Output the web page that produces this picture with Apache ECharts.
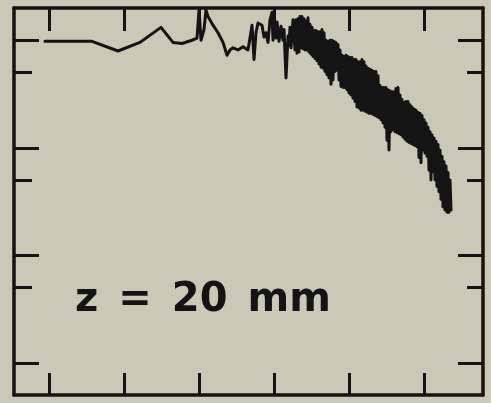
<!DOCTYPE html>
<html>
<head>
<meta charset="utf-8">
<script src="https://cdn.jsdelivr.net/npm/echarts@6/dist/echarts.min.js"></script>
<style>
  html, body { margin: 0; padding: 0; background: #cac8b6; }
  #chart { width: 491px; height: 403px; }
</style>
</head>
<body>
<div id="chart"></div>
<script>
// Tick positions (labels are not printed on this plot)
const xTicks = [75, 150, 225, 300, 375, 450];
const yMajorTicks = [0, -10, -20, -30];
const yMinorTicks = [-3, -13, -23];
const xRange = [40, 509];
const yRange = [-33, 3];

const caption = 'z\u2002=\u200220\u2002mm';

// Low-frequency part of the trace: [x, level dB]
const traceStart = [
  [71, -0.1], [96, -0.1], [118, -0.1], [144, -1.0], [166, -0.2], [187, 1.2],
  [199, -0.2], [208, -0.3], [218, 0.0], [223, 0.2], [225, 2.8], [227, 0.0],
  [230, 1.0], [232, 2.8], [234, 2.2], [239, 1.4], [244, 0.7], [249, -0.2],
  [253, -1.4], [256, -0.9], [259, -0.7], [264, -0.9], [269, -0.6], [274, -0.9],
  [277, 0.8], [278, 1.4], [280, -1.8], [282, 0.7], [284, 1.6], [288, 1.4],
  [290, 0.3], [292, 0.7], [294, -0.2], [296, 1.9], [298, 2.6], [299, 0.0],
  [300, 2.5], [302, 0.2], [303, 1.7], [305, -0.1], [307, 1.3], [309, 0.0],
  [310, 1.0], [312, -3.5], [314, 0.4], [315, -0.5], [316, 1.2], [317, -0.7],
  [319, 1.9]
];

// Rapidly fluctuating high-frequency part of the trace: [x, level dB]
const traceBand = [
  [321, -0.9], [322, 1.9], [323, -1.2], [324, 2.0], [325, -1.1], [326, 2.2],
  [327, -0.7], [328, 2.2], [329, -0.8], [330, 2.0], [331, -0.9], [332, 1.8],
  [333, -0.9], [334, 2.1], [335, -1.1], [336, 1.5], [337, -1.3], [338, 1.2],
  [339, -1.5], [340, 0.9], [341, -1.7], [342, 0.9], [343, -1.9], [344, 0.8],
  [345, -2.2], [346, 0.8], [347, -2.5], [348, 1.0], [349, -2.6], [350, 0.7],
  [351, -2.9], [352, 0.0], [353, -3.2], [354, -0.1], [355, -3.5], [356, 0.0],
  [357, -4.1], [358, 0.0], [359, -3.7], [360, -0.1], [361, -2.9], [362, -0.2],
  [363, -2.8], [364, -0.4], [365, -3.7], [366, -0.9], [367, -4.3], [368, -1.4],
  [369, -4.4], [370, -1.5], [371, -4.4], [372, -1.4], [373, -4.6], [374, -1.5],
  [375, -4.9], [376, -1.6], [377, -5.1], [378, -1.6], [379, -5.4], [380, -1.8],
  [381, -5.7], [382, -1.8], [383, -6.2], [384, -2.0], [385, -6.3], [386, -2.0],
  [387, -6.5], [388, -1.8], [389, -6.5], [390, -2.0], [391, -6.6], [392, -2.4],
  [393, -6.7], [394, -2.6], [395, -6.8], [396, -2.7], [397, -6.8], [398, -2.8],
  [399, -6.9], [400, -2.9], [401, -7.0], [402, -2.9], [403, -7.1], [404, -3.3],
  [405, -7.2], [406, -4.2], [407, -7.4], [408, -4.4], [409, -7.7], [410, -4.4],
  [411, -8.1], [412, -4.4], [413, -9.3], [414, -4.6], [415, -10.2], [416, -4.7],
  [417, -8.5], [418, -4.8], [419, -8.3], [420, -4.8], [421, -8.5], [422, -4.5],
  [423, -8.6], [424, -4.4], [425, -8.7], [426, -5.1], [427, -8.8], [428, -5.5],
  [429, -9.0], [430, -5.8], [431, -9.2], [432, -5.7], [433, -9.4], [434, -5.7],
  [435, -9.5], [436, -6.0], [437, -9.6], [438, -6.2], [439, -9.7], [440, -6.4],
  [441, -9.8], [442, -6.5], [443, -9.9], [444, -6.7], [445, -10.9], [446, -6.8],
  [447, -11.4], [448, -7.0], [449, -10.2], [450, -7.4], [451, -10.5], [452, -7.7],
  [453, -10.8], [454, -8.1], [455, -12.1], [456, -8.5], [457, -13.0], [458, -8.8],
  [459, -12.2], [460, -9.1], [461, -13.0], [462, -9.4], [463, -13.6], [464, -9.7],
  [465, -14.1], [466, -10.2], [467, -14.8], [468, -10.8], [469, -15.5], [470, -11.3],
  [471, -15.8], [472, -11.7], [473, -16.0], [474, -12.3], [475, -16.0], [476, -13.0],
  [477, -15.8]
];

const ink = '#141414';

function xAxisAt(position, tickLen) {
  return {
    type: 'value', position: position, min: xRange[0], max: xRange[1],
    axisLine: { show: true, onZero: false, lineStyle: { color: ink, width: 3.5 } },
    axisTick: { show: true, inside: true, length: tickLen, customValues: xTicks,
                lineStyle: { color: ink, width: 3 } },
    axisLabel: { show: false }, splitLine: { show: false }
  };
}

function yAxisAt(position, ticks, tickLen, showLine) {
  return {
    type: 'value', position: position, min: yRange[0], max: yRange[1],
    axisLine: { show: showLine, onZero: false, lineStyle: { color: ink, width: 3.5 } },
    axisTick: { show: true, inside: true, length: tickLen, customValues: ticks,
                lineStyle: { color: ink, width: 3 } },
    axisLabel: { show: false }, splitLine: { show: false }
  };
}

const chart = echarts.init(document.getElementById('chart'), null, { renderer: 'canvas' });
chart.setOption({
  backgroundColor: '#cac8b6',
  animation: false,
  grid: { left: 14, right: 8, top: 8, bottom: 8, containLabel: false },
  xAxis: [xAxisAt('bottom', 22), xAxisAt('top', 23)],
  yAxis: [
    yAxisAt('left', yMajorTicks, 25, true),
    yAxisAt('left', yMinorTicks, 18, false),
    yAxisAt('right', yMajorTicks, 25, true),
    yAxisAt('right', yMinorTicks, 16, false)
  ],
  series: [{
    type: 'line',
    xAxisIndex: 0, yAxisIndex: 0,
    data: traceStart.concat(traceBand),
    showSymbol: false, symbol: 'none',
    lineStyle: { color: ink, width: 3, join: 'round', cap: 'round' },
    silent: true
  }],
  graphic: [{
    type: 'text',
    x: 75, y: 301,
    style: {
      text: caption,
      font: 'bold 40px "DejaVu Sans"',
      fill: ink,
      verticalAlign: 'middle', align: 'left'
    }
  }]
});
</script>
</body>
</html>
